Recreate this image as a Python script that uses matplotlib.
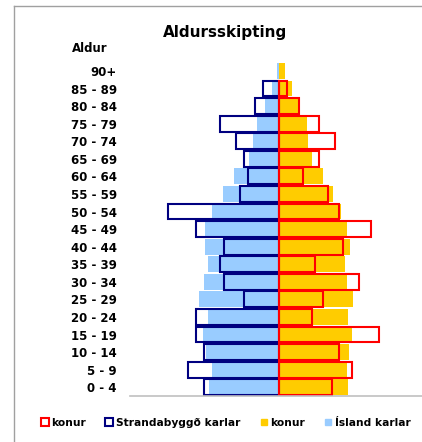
import matplotlib.pyplot as plt
from matplotlib.lines import Line2D
import numpy as np

# Aldursskipting - Strandabyggð vs Ísland (hlutfall, %)
aldur = ['0 - 4', '5 - 9', '10 - 14', '15 - 19', '20 - 24', '25 - 29', '30 - 34',
         '35 - 39', '40 - 44', '45 - 49', '50 - 54', '55 - 59', '60 - 64',
         '65 - 69', '70 - 74', '75 - 79', '80 - 84', '85 - 89', '90+']

island_karlar = [3.53, 3.38, 3.67, 3.83, 3.58, 4.00, 3.78, 3.58, 3.70, 3.70,
                 3.37, 2.83, 2.25, 1.52, 1.30, 1.13, 0.70, 0.38, 0.13]
island_konur = [3.42, 3.37, 3.50, 3.65, 3.45, 3.67, 3.40, 3.28, 3.53, 3.40,
                3.10, 2.70, 2.17, 1.63, 1.45, 1.37, 1.00, 0.62, 0.28]
strand_karlar = [3.78, 4.57, 3.78, 4.17, 4.17, 1.77, 2.77, 2.97, 2.77, 4.17,
                 5.57, 1.97, 1.58, 1.77, 2.18, 2.97, 1.20, 0.80, 0.00]
strand_konur = [2.62, 3.62, 2.98, 5.00, 1.62, 2.20, 3.98, 1.78, 3.20, 4.58,
                3.00, 2.42, 1.20, 2.00, 2.80, 2.00, 1.00, 0.40, 0.00]

c_red = '#FF0000'
c_navy = '#000080'
c_yellow = '#FFCC00'
c_lblue = '#99CCFF'

fig = plt.figure(figsize=(4.22, 4.42), dpi=100)
ax = fig.add_axes([130 / 422, 46 / 442, 292 / 422, 333.8 / 442])

y = np.arange(len(aldur))
h = 0.9

ax.barh(y, -np.array(island_karlar), height=h, color=c_lblue, zorder=1)
ax.barh(y, island_konur, height=h, color=c_yellow, zorder=1)

# útlínur fyrir Strandabyggð (sleppa núllgildum)
sk = np.array(strand_karlar)
sf = np.array(strand_konur)
ax.barh(y[sk > 0], -sk[sk > 0], height=h, facecolor='none',
        edgecolor=c_navy, linewidth=1.5, zorder=2)
ax.barh(y[sf > 0], sf[sf > 0], height=h, facecolor='none',
        edgecolor=c_red, linewidth=1.5, zorder=2)

ax.set_xlim(-7.47, 7.13)
ax.set_ylim(-0.5, 18.5)
ax.set_yticks(y)
ax.set_yticklabels(aldur, fontsize=8.5, fontweight='bold')
ax.tick_params(axis='y', length=0, pad=9.4)
ax.set_xticks([])
for s in ['top', 'right', 'left']:
    ax.spines[s].set_visible(False)
ax.spines['bottom'].set_color('#C0C0C0')
ax.spines['bottom'].set_linewidth(1.2)

fig.text(225 / 422, 1 - 32 / 442, 'Aldursskipting', ha='center', va='center',
         fontsize=11, fontweight='bold')
fig.text(72 / 422, 1 - 48 / 442, 'Aldur', ha='left', va='center',
         fontsize=8.5, fontweight='bold')

# rammi
fig.add_artist(Line2D([14 / 422, 14 / 422], [0, 1 - 6 / 442], color='#A0A0A0', lw=1))
fig.add_artist(Line2D([14 / 422, 1], [1 - 6 / 442, 1 - 6 / 442], color='#A0A0A0', lw=1))

handles = [
    Line2D([], [], marker='s', ls='none', markersize=5.5, markerfacecolor='white',
           markeredgecolor=c_red, markeredgewidth=1.5),
    Line2D([], [], marker='s', ls='none', markersize=5.5, markerfacecolor='white',
           markeredgecolor=c_navy, markeredgewidth=1.5),
    Line2D([], [], marker='s', ls='none', markersize=5, markerfacecolor=c_yellow,
           markeredgecolor=c_yellow),
    Line2D([], [], marker='s', ls='none', markersize=5, markerfacecolor=c_lblue,
           markeredgecolor=c_lblue),
]
labels = ['konur', 'Strandabyggð karlar', 'konur', 'Ísland karlar']
fig.legend(handles, labels, loc='center', bbox_to_anchor=(226 / 422, 1 - 423 / 442),
           ncol=4, frameon=False, handlelength=0.6, handletextpad=0.3,
           columnspacing=1.9, prop={'size': 7.7, 'weight': 'bold'})

fig.savefig('out.png', dpi=100)
